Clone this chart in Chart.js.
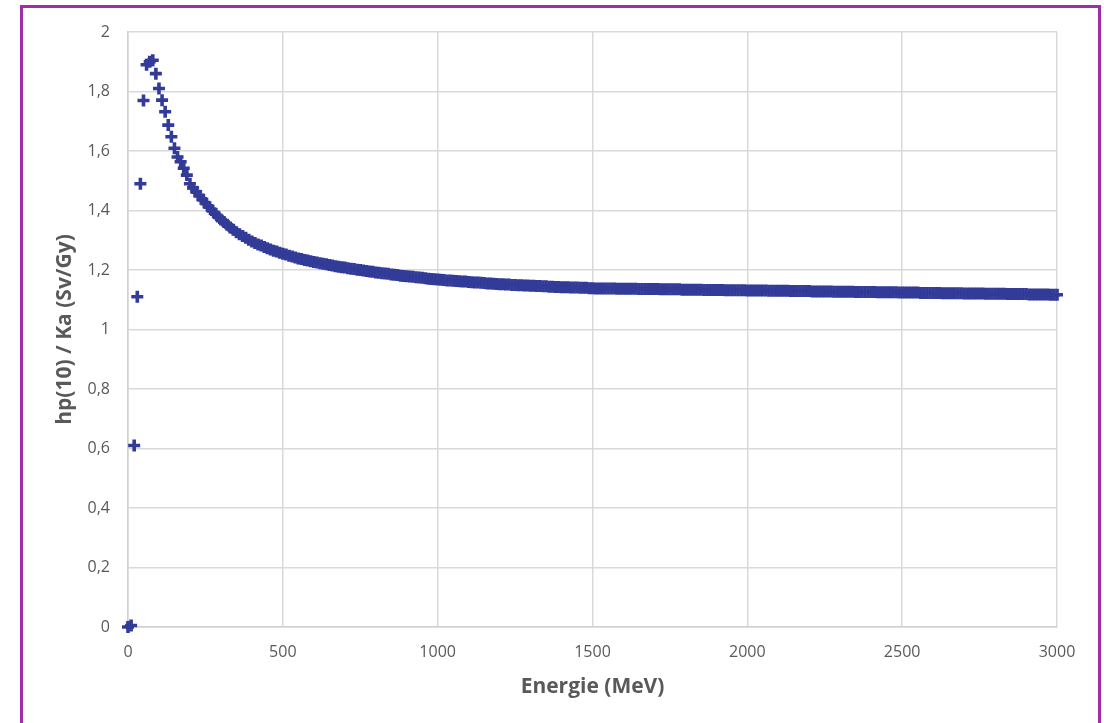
<!DOCTYPE html>
<html><head><meta charset="utf-8">
<script src="https://cdn.jsdelivr.net/npm/chart.js@4.4.1/dist/chart.umd.min.js"></script>
<style>
html,body{margin:0;padding:0;background:#fff;overflow:hidden;width:1104px;height:723px}
#wrap{position:absolute;left:0;top:0;width:1104px;height:723px}
#frame{position:absolute;left:20px;top:5px;width:1081px;height:740px;border:3px solid #a12ea9;box-sizing:border-box;pointer-events:none}
</style></head>
<body>
<div id="wrap"><canvas id="c" width="1104" height="723"></canvas></div>
<div id="frame"></div>
<script>
// Energy grid (MeV), one point every 10 MeV from 0 to 3000
const energyStart = 0;
const energyStep = 10;
// hp(10)/Ka values (Sv/Gy)
const ratioValues = [
0.000,0.005,0.61,1.11,1.49,1.77,1.89,1.90,1.905,1.86,1.81,1.771,1.732,1.687,1.648,1.609,1.58,1.564,1.542,1.519,1.490,
1.476,1.463,1.450,1.437,1.425,1.413,1.402,1.391,1.380,1.370,1.361,1.352,1.343,1.335,1.327,1.320,1.314,1.308,1.302,1.296,
1.291,1.286,1.282,1.277,1.273,1.269,1.265,1.262,1.258,1.255,
1.252,1.248,1.245,1.242,1.239,1.237,1.234,1.232,1.229,1.227,
1.225,1.223,1.221,1.219,1.217,1.215,1.213,1.211,1.209,1.208,
1.206,1.204,1.203,1.201,1.200,1.198,1.197,1.195,1.194,1.192,
1.191,1.189,1.188,1.187,1.185,1.184,1.183,1.181,1.180,1.179,
1.178,1.177,1.176,1.175,1.174,1.172,1.171,1.170,1.169,1.168,
1.167,1.166,1.165,1.165,1.164,1.163,1.162,1.161,1.161,1.160,1.159,1.158,1.158,1.157,1.156,1.155,1.155,1.154,1.153,1.152,
1.152,1.151,1.151,1.150,1.150,1.149,1.149,1.148,1.148,1.147,1.147,1.146,1.146,1.145,1.145,1.144,1.144,1.143,1.143,1.142,1.142,1.142,1.141,1.141,1.141,1.140,1.140,1.140,1.139,1.139,
1.138,1.138,1.138,1.138,1.138,1.138,1.138,
1.137,1.137,1.137,1.137,1.137,1.137,1.137,
1.136,1.136,1.136,1.136,1.136,1.136,1.136,
1.135,1.135,1.135,1.135,1.135,1.135,1.135,
1.134,1.134,1.134,1.134,1.134,1.134,1.134,
1.133,1.133,1.133,1.133,1.133,1.133,1.133,
1.132,1.132,1.132,1.132,1.132,1.132,1.132,
1.131,1.131,1.131,1.131,1.131,1.131,1.131,
1.130,1.130,1.130,1.130,1.130,1.130,1.130,
1.129,1.129,1.129,1.129,1.129,1.129,1.129,
1.128,1.128,1.128,1.128,1.128,1.128,1.128,
1.127,1.127,1.127,1.127,1.127,1.127,1.127,
1.126,1.126,1.126,1.126,1.126,1.126,1.126,
1.125,1.125,1.125,1.125,1.125,1.125,1.125,
1.124,1.124,1.124,1.124,1.124,1.124,1.124,
1.123,1.123,1.123,1.123,1.123,1.123,1.123,
1.122,1.122,1.122,1.122,1.122,1.122,1.122,
1.121,1.121,1.121,1.121,1.121,1.121,1.121,
1.120,1.120,1.120,1.120,1.120,1.120,1.120,
1.119,1.119,1.119,1.119,1.119,1.119,1.119,
1.118,1.118,1.118,1.118,1.118,1.118,1.118,
1.117,1.117,1.117
];
const xTicks = [0,500,1000,1500,2000,2500,3000];
const yTicks = [0,0.2,0.4,0.6,0.8,1,1.2,1.4,1.6,1.8,2];
const xTitle = 'Energie (MeV)';
const yTitle = 'hp(10) / Ka (Sv/Gy)';

const points = ratioValues.map((v, i) => ({x: energyStart + i * energyStep, y: v}));

Chart.defaults.font.family = "'Open Sans', sans-serif";
Chart.defaults.color = '#595959';

new Chart(document.getElementById('c'), {
  type: 'scatter',
  data: { datasets: [{
    data: points,
    pointStyle: 'cross',
    pointRadius: 6,
    pointHoverRadius: 6,
    pointBorderWidth: 3.6,
    borderColor: '#323b98',
    backgroundColor: '#323b98',
    clip: false
  }]},
  options: {
    responsive: false,
    animation: false,
    devicePixelRatio: 1,
    layout: { padding: { left: 40, top: 32, right: 47, bottom: 0 } },
    plugins: { legend: { display: false }, tooltip: { enabled: false } },
    scales: {
      x: {
        type: 'linear', min: 0, max: 3000,
        afterFit: s => { s.height = 96; },
        afterBuildTicks: s => { s.ticks = xTicks.map(v => ({value: v})); },
        grid: { color: '#d9d9d9', drawTicks: false, lineWidth: 1.5 },
        border: { color: '#d0d0d0', width: 1.5 },
        ticks: { padding: 16, font: { size: 16 }, color: '#595959', callback: v => String(v) },
        title: { display: true, text: xTitle, color: '#595959', font: { size: 21, weight: 'bold' }, padding: { top: 4, bottom: 23 } }
      },
      y: {
        type: 'linear', min: 0, max: 2,
        afterFit: s => { s.width = 88; },
        afterBuildTicks: s => { s.ticks = yTicks.map(v => ({value: v})); },
        grid: { color: '#d9d9d9', drawTicks: false, lineWidth: 1.5 },
        border: { color: '#d0d0d0', width: 1.5 },
        ticks: { padding: 18, font: { size: 16 }, color: '#595959',
          callback: v => (Math.round(v * 10) / 10).toString().replace('.', ',') },
        title: { display: true, text: yTitle, color: '#595959', font: { size: 21, weight: 'bold' }, padding: { top: 12, bottom: 4 } }
      }
    }
  }
});
</script>
</body></html>
